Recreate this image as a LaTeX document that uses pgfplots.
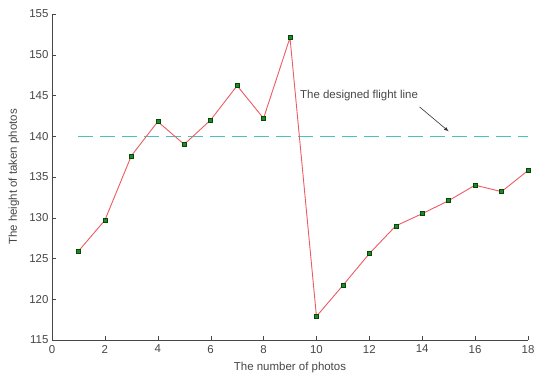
\documentclass[border=0pt]{standalone}
\usepackage{fontspec}
\setmainfont{Liberation Sans}
\usepackage{pgfplots}
\pgfplotsset{compat=1.18}
\definecolor{linered}{RGB}{236,90,100}
\definecolor{mkgreen}{RGB}{40,130,50}
\definecolor{dashcyan}{RGB}{70,195,190}
\definecolor{axgray}{RGB}{70,70,70}
\begin{document}
\begin{tikzpicture}
\begin{axis}[
  scale only axis,
  width=476bp, height=326bp,
  xmin=0, xmax=18, ymin=115, ymax=155,
  xtick={0,2,...,18}, ytick={115,120,...,155},
  axis lines=left,
  axis line style={-, axgray},
  tick align=inside,
  tick style={axgray},
  major tick length=4bp,
  /pgf/number format/assume math mode=true,
  ticklabel style={font=\fontsize{11.5}{13}\selectfont, text=axgray},
  xticklabel style={yshift=-1.5bp},
  label style={font=\fontsize{11.5}{13}\selectfont, text=axgray},
  xlabel={The number of photos},
  ylabel={The height of taken photos},
  xlabel style={at={(axis description cs:0.5,-0.086)}, anchor=center},
  ylabel style={at={(axis description cs:-0.080,0.5)}, anchor=center},
  clip=false,
]
\addplot[dashcyan, line width=1.2pt, dash pattern=on 15bp off 7bp] coordinates {(1,140) (18,140)};
\addplot[linered, line width=0.9pt, mark=square*, mark size=2pt,
  mark options={fill=mkgreen, draw=black!70!green, line width=0.5pt, solid}] coordinates {
(1,125.9) (2,129.7) (3,137.6) (4,141.8) (5,139.0) (6,142.0) (7,146.2) (8,142.2) (9,152.1)
(10,117.9) (11,121.7) (12,125.6) (13,129.0) (14,130.5) (15,132.1) (16,134.0) (17,133.2) (18,135.8)
};
\node[anchor=west, font=\fontsize{11.5}{13}\selectfont, text=axgray] at (axis cs:9.25,145.0) {The designed flight line};
\draw[-latex, black!80, line width=0.6pt] (axis cs:13.9,143.6) -- (axis cs:15.0,140.6);
\end{axis}
\pgfresetboundingbox
\path (current axis.south west) ++(-52bp,-37bp) rectangle ([shift={(6bp,14bp)}]current axis.north east);
\end{tikzpicture}
\end{document}
